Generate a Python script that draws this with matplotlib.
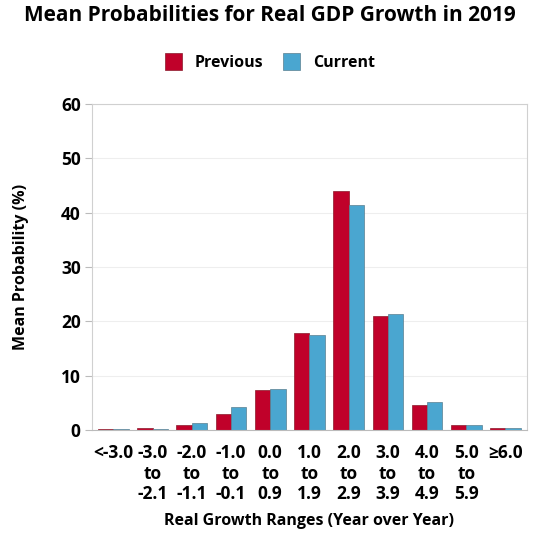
import matplotlib
matplotlib.use('Agg')
import matplotlib.pyplot as plt
import numpy as np

plt.rcParams['font.family'] = ['Open Sans', 'DejaVu Sans']

categories = ['<-3.0', '-3.0\nto\n-2.1', '-2.0\nto\n-1.1', '-1.0\nto\n-0.1',
              '0.0\nto\n0.9', '1.0\nto\n1.9', '2.0\nto\n2.9', '3.0\nto\n3.9',
              '4.0\nto\n4.9', '5.0\nto\n5.9', '\u22656.0']
previous = [0.1, 0.4, 0.8, 3.0, 7.3, 17.9, 44.0, 20.9, 4.6, 0.8, 0.3]
current = [0.1, 0.2, 1.35, 4.2, 7.5, 17.4, 41.5, 21.4, 5.1, 0.8, 0.3]

red = '#C0012A'
blue = '#4AA6D0'

fig = plt.figure(figsize=(5.4, 5.4), dpi=100)
ax = fig.add_axes([0.170, 0.204, 0.806, 0.603])

x = np.arange(len(categories))
w = 0.39
ax.bar(x - w / 2, previous, w, color=red, edgecolor='#8a1a2a', linewidth=0.5, label='Previous')
ax.bar(x + w / 2, current, w, color=blue, edgecolor='#5a7f90', linewidth=0.5, label='Current')

ax.set_ylim(0, 60)
ax.set_xlim(-0.55, len(categories) - 0.45)
ax.set_yticks(range(0, 61, 10))
ax.yaxis.grid(True, color='#eeeeee', linewidth=0.8)
ax.set_axisbelow(True)
for s in ax.spines.values():
    s.set_color('#d0d0d0')
ax.spines['bottom'].set_color('#bbbbbb')

ax.set_xticks(x)
ax.set_xticklabels(categories, fontsize=12.5, fontweight='bold', linespacing=1.2, va='top')
ax.tick_params(axis='x', length=0, pad=10)
ax.tick_params(axis='y', labelsize=12.5, length=5, color='#bbbbbb', pad=3)
for lb in ax.get_yticklabels():
    lb.set_fontweight('bold')

ax.set_ylabel('Mean Probability (%)', fontsize=11.5, fontweight='bold', labelpad=23)
ax.set_xlabel('Real Growth Ranges (Year over Year)', fontsize=11.5, fontweight='bold', labelpad=7)

fig.suptitle('Mean Probabilities for Real GDP Growth in 2019', fontsize=15,
             fontweight='bold', y=0.99)
leg = fig.legend(loc='center', bbox_to_anchor=(0.5, 0.885), ncol=2, frameon=False,
                 prop={'weight': 'bold', 'size': 11.5}, handlelength=1.1, handleheight=1.3,
                 columnspacing=1.2, handletextpad=0.8)

fig.savefig('out.png', dpi=100)
